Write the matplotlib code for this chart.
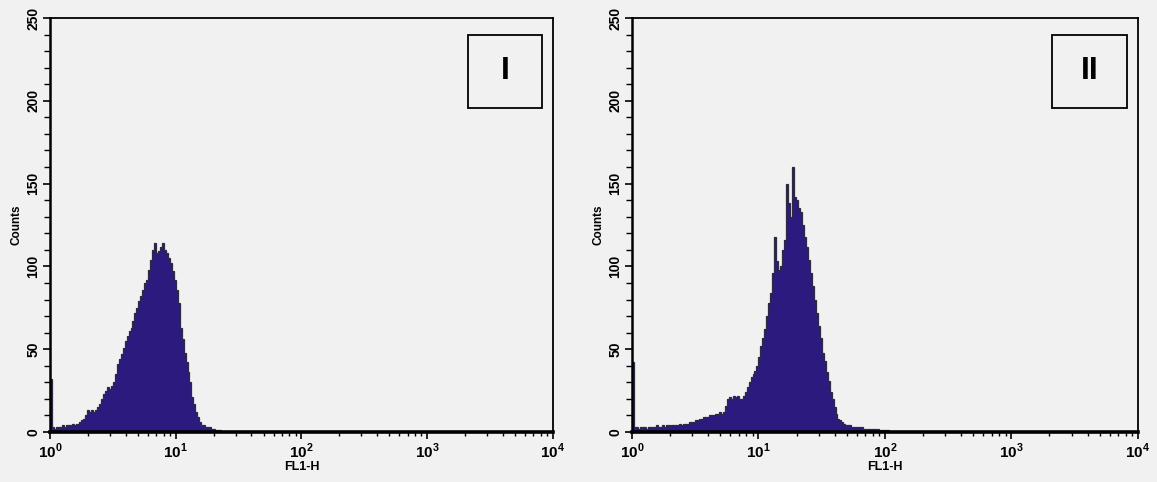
import numpy as np
import matplotlib
matplotlib.use('Agg')
import matplotlib.pyplot as plt
from matplotlib.patches import Rectangle
from matplotlib.ticker import MultipleLocator, LogLocator, NullFormatter

plt.rcParams['font.family'] = ['Liberation Sans', 'DejaVu Sans']
plt.rcParams['mathtext.fontset'] = 'custom'
plt.rcParams['mathtext.rm'] = 'Liberation Sans:bold'
plt.rcParams['mathtext.bf'] = 'Liberation Sans:bold'

# 256 log channels over 4 decades (64 per decade), counts per channel
N_CHANNELS = 256
counts_I = [
    32, 3, 2, 3, 3, 3, 4, 3, 4, 4,
    4, 5, 4, 5, 5, 6, 7, 8, 10, 13,
    12, 13, 12, 13, 15, 17, 20, 23, 25, 27,
    26, 28, 30, 35, 41, 44, 47, 51, 55, 58,
    61, 63, 67, 72, 75, 79, 82, 86, 90, 92,
    98, 104, 110, 114, 108, 109, 112, 114, 110, 108,
    105, 102, 97, 92, 86, 78, 63, 56, 48, 42,
    36, 30, 21, 17, 12, 9, 6, 4, 4, 3,
    3, 3, 2, 2, 1, 1, 1,
]
counts_II = [
    42, 3, 3, 2, 3, 3, 3, 2, 3, 3,
    3, 3, 4, 3, 3, 4, 3, 4, 4, 3,
    4, 4, 4, 4, 5, 4, 5, 5, 5, 6,
    6, 6, 7, 7, 8, 8, 9, 9, 9, 10,
    10, 10, 11, 11, 12, 11, 12, 16, 20, 21,
    20, 22, 21, 22, 20, 20, 22, 24, 27, 30,
    33, 35, 37, 40, 45, 52, 57, 62, 70, 78,
    84, 96, 118, 103, 98, 100, 110, 116, 150, 138,
    130, 160, 142, 140, 135, 133, 125, 118, 112, 104,
    96, 88, 80, 72, 64, 57, 48, 43, 36, 31,
    24, 20, 15, 11, 8, 7, 6, 5, 4, 4,
    4, 3, 3, 3, 3, 3, 3, 2, 2, 2,
    2, 2, 2, 2, 2, 1, 1, 1, 1, 1,
]
panel_labels = ['I', 'II']
x_ticks = [1, 10, 100, 1000, 10000]
x_ticklabels = [r'$10^{0}$', r'$10^{1}$', r'$10^{2}$', r'$10^{3}$', r'$10^{4}$']
y_ticks = [0, 50, 100, 150, 200, 250]

FILL = '#2c1a7e'
BG = '#f1f1f1'

edges = np.logspace(0, 4, N_CHANNELS + 1)

fig = plt.figure(figsize=(11.57, 4.82), dpi=100, facecolor=BG)
rects = [[0.0432, 0.1037, 0.4347, 0.859],
         [0.5462, 0.1037, 0.4373, 0.859]]

for rect, counts, label in zip(rects, [counts_I, counts_II], panel_labels):
    ax = fig.add_axes(rect)
    ax.set_facecolor(BG)
    c = np.zeros(N_CHANNELS)
    c[:len(counts)] = counts
    ax.stairs(c, edges, fill=True, color=FILL, lw=0)
    ax.stairs(c, edges, color='#2f2a44', lw=0.9)

    ax.set_xscale('log')
    ax.set_xlim(1, 1e4)
    ax.set_ylim(0, 250)
    ax.set_xticks(x_ticks)
    ax.set_xticklabels(x_ticklabels, fontsize=11)
    ax.xaxis.set_minor_locator(LogLocator(base=10, subs=np.arange(2, 10)))
    ax.xaxis.set_minor_formatter(NullFormatter())
    ax.set_yticks(y_ticks)
    ax.set_yticklabels([str(v) for v in y_ticks], fontsize=10, fontweight='bold',
                       rotation=90, va='center')
    ax.yaxis.set_minor_locator(MultipleLocator(10))

    ax.tick_params(axis='both', which='major', direction='out', length=5,
                   width=1.2, color='black', pad=2)
    ax.tick_params(axis='both', which='minor', direction='out', length=4,
                   width=1.0, color='black')
    ax.tick_params(axis='x', which='minor', length=3)

    for side in ['top', 'right']:
        ax.spines[side].set_linewidth(1.3)
    ax.spines['left'].set_linewidth(1.8)
    ax.spines['bottom'].set_linewidth(2.6)

    ax.set_xlabel('FL1-H', fontsize=9, fontweight='bold', labelpad=0)
    ax.set_ylabel('Counts', fontsize=8.5, fontweight='bold', labelpad=3)

    ax.add_patch(Rectangle((0.831, 0.783), 0.147, 0.176, transform=ax.transAxes,
                           fill=False, lw=1.3, ec='black'))
    ax.text(0.831 + 0.147 / 2, 0.783 + 0.176 / 2, label, transform=ax.transAxes,
            ha='center', va='center', fontsize=23, fontweight='bold')

fig.savefig('out.png', dpi=100, facecolor=BG)
